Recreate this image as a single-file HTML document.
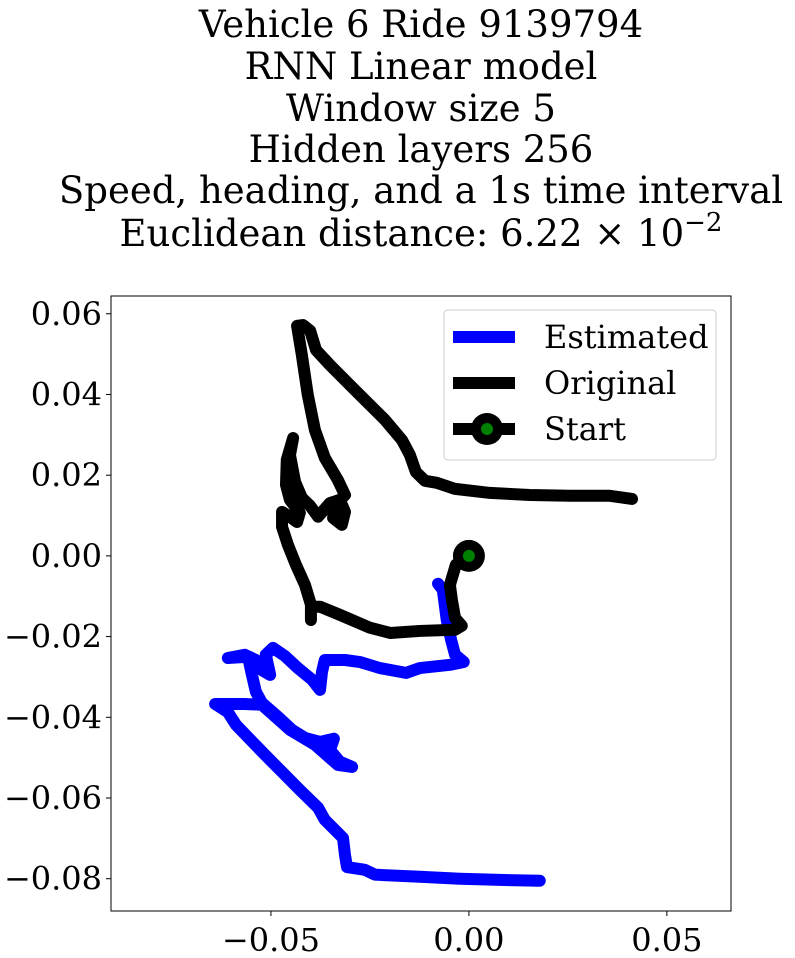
<!DOCTYPE html>
<html><head><meta charset="utf-8"><style>
body{margin:0;background:#fff;}
svg{display:block;font-family:"DejaVu Serif","Liberation Serif",serif;}
</style></head><body>
<svg id="chart" width="795" height="958">
<g font-size="37" text-anchor="middle" fill="#000">
<text x="421" y="37">Vehicle 6 Ride 9139794</text>
<text x="421" y="79">RNN Linear model</text>
<text x="421" y="121">Window size 5</text>
<text x="421" y="162">Hidden layers 256</text>
<text x="421" y="203">Speed, heading, and a 1s time interval</text>
<text x="421" y="246">Euclidean distance: 6.22 × 10<tspan font-size="26" dy="-15">−2</tspan></text>
</g>
<rect x="111" y="296" width="620" height="615" fill="#fff" stroke="#000" stroke-width="1"/>
<g id="ticks"></g>
<g id="series"></g>
<g>
<rect x="444" y="310" width="272" height="150" rx="4" fill="#fff" fill-opacity="0.8" stroke="#ccc"/>
<line x1="453" y1="337" x2="515" y2="337" stroke="#0000ff" stroke-width="12"/>
<text x="544" y="348" font-size="32">Estimated</text>
<line x1="453" y1="383" x2="515" y2="383" stroke="#000" stroke-width="12"/>
<text x="544" y="394" font-size="32">Original</text>
<line x1="453" y1="429" x2="515" y2="429" stroke="#000" stroke-width="12"/>
<circle cx="487" cy="429" r="16" fill="#000"/><circle cx="487" cy="429" r="6" fill="#008000"/>
<text x="544" y="440" font-size="32">Start</text>
</g>
</svg>
<script>
const xTicks=[-0.05,0.00,0.05];
const xTickLabels=["−0.05","0.00","0.05"];
const yTicks=[0.06,0.04,0.02,0.00,-0.02,-0.04,-0.06,-0.08];
const yTickLabels=["0.06","0.04","0.02","0.00","−0.02","−0.04","−0.06","−0.08"];
const origX=[0,-0.0033,-0.0048,-0.0043,-0.0035,-0.0018,-0.0035,-0.0124,-0.0199,-0.0250,-0.0326,-0.0376,-0.0399,-0.0399,-0.0399,-0.0414,-0.0437,-0.0457,-0.0472,-0.0472,-0.0452,-0.0434,-0.0427,-0.0452,-0.0462,-0.0460,-0.0444,-0.0452,-0.0439,-0.0422,-0.0401,-0.0381,-0.0351,-0.0326,-0.0313,-0.0321,-0.0343,-0.0338,-0.0313,-0.0331,-0.0364,-0.0389,-0.0407,-0.0422,-0.0434,-0.0419,-0.0401,-0.0386,-0.0351,-0.0288,-0.0212,-0.0169,-0.0149,-0.0134,-0.0111,-0.0081,-0.0035,0.0053,0.0154,0.0255,0.0356,0.0412];
const origY=[0,-0.0022,-0.0072,-0.0109,-0.0154,-0.0173,-0.0183,-0.0186,-0.0191,-0.0178,-0.0146,-0.0126,-0.0126,-0.0159,-0.0121,-0.0072,-0.0022,0.0027,0.0072,0.0109,0.0097,0.0084,0.0107,0.0139,0.0176,0.0238,0.0292,0.0250,0.0183,0.0144,0.0124,0.0097,0.0131,0.0139,0.0109,0.0077,0.0094,0.0126,0.0151,0.0188,0.0243,0.0312,0.0399,0.0498,0.0570,0.0572,0.0558,0.0510,0.0473,0.0411,0.0337,0.0287,0.0250,0.0208,0.0186,0.0181,0.0166,0.0156,0.0151,0.0149,0.0149,0.0141];
const estX=[-0.0078,-0.0066,-0.0056,-0.0045,-0.0035,-0.0013,-0.0048,-0.0124,-0.0159,-0.0225,-0.0275,-0.0313,-0.0364,-0.0371,-0.0376,-0.0396,-0.0432,-0.0465,-0.0495,-0.0513,-0.0502,-0.0523,-0.0538,-0.0566,-0.0609,-0.0558,-0.0548,-0.0538,-0.0523,-0.0482,-0.0447,-0.0414,-0.0376,-0.0341,-0.0351,-0.0326,-0.0295,-0.0331,-0.0389,-0.0452,-0.0523,-0.0566,-0.0641,-0.0609,-0.0588,-0.0515,-0.0427,-0.0381,-0.0364,-0.0318,-0.0313,-0.0308,-0.0263,-0.0237,-0.0124,-0.0023,0.0078,0.0179];
const estY=[-0.0069,-0.0084,-0.0159,-0.0208,-0.0245,-0.0263,-0.0270,-0.0278,-0.0290,-0.0278,-0.0263,-0.0258,-0.0258,-0.0287,-0.0332,-0.0307,-0.0278,-0.0248,-0.0228,-0.0245,-0.0295,-0.0283,-0.0258,-0.0245,-0.0253,-0.0250,-0.0295,-0.0337,-0.0364,-0.0399,-0.0431,-0.0451,-0.0461,-0.0453,-0.0481,-0.0510,-0.0523,-0.0518,-0.0468,-0.0431,-0.0369,-0.0367,-0.0367,-0.0387,-0.0419,-0.0493,-0.0580,-0.0624,-0.0654,-0.0699,-0.0741,-0.0771,-0.0778,-0.0790,-0.0795,-0.0800,-0.0803,-0.0805];
const startX=0, startY=0;

const L=111,R=731,T=296,B=911;
const xMin=-0.0904,xMax=0.0662,yMin=-0.0880,yMax=0.0644;
const sx=v=>L+(v-xMin)/(xMax-xMin)*(R-L);
const sy=v=>B-(v-yMin)/(yMax-yMin)*(B-T);
const NS="http://www.w3.org/2000/svg";
const ticks=document.getElementById('ticks');
xTicks.forEach((v,i)=>{
  const l=document.createElementNS(NS,'line');
  l.setAttribute('x1',sx(v));l.setAttribute('x2',sx(v));l.setAttribute('y1',B);l.setAttribute('y2',B+5);l.setAttribute('stroke','#000');
  
  
  ticks.appendChild(l);
  const t=document.createElementNS(NS,'text');
  t.setAttribute('x',sx(v));t.setAttribute('y',B+40);t.setAttribute('font-size','32');t.setAttribute('text-anchor','middle');
  t.textContent=xTickLabels[i];
  
  
  ticks.appendChild(t);
});
yTicks.forEach((v,i)=>{
  const l=document.createElementNS(NS,'line');
  l.setAttribute('x1',L-5);l.setAttribute('x2',L);l.setAttribute('y1',sy(v));l.setAttribute('y2',sy(v));l.setAttribute('stroke','#000');
  
  
  ticks.appendChild(l);
  const t=document.createElementNS(NS,'text');
  t.setAttribute('x',L-9);t.setAttribute('y',sy(v)+11);t.setAttribute('font-size','32');t.setAttribute('text-anchor','end');
  t.textContent=yTickLabels[i];
  
  
  ticks.appendChild(t);
});
const series=document.getElementById('series');
function poly(xs,ys,color,name){
  const p=document.createElementNS(NS,'polyline');
  p.setAttribute('points',xs.map((x,i)=>sx(x)+','+sy(ys[i])).join(' '));
  p.setAttribute('fill','none');p.setAttribute('stroke',color);p.setAttribute('stroke-width','12');
  p.setAttribute('stroke-linejoin','round');p.setAttribute('stroke-linecap','round');
  
  
  series.appendChild(p);
}
poly(estX,estY,'#0000ff','estimated-line');
poly(origX,origY,'#000','original-line');
const c1=document.createElementNS(NS,'circle');
c1.setAttribute('cx',sx(startX));c1.setAttribute('cy',sy(startY));c1.setAttribute('r','16');c1.setAttribute('fill','#000');


series.appendChild(c1);
const c2=document.createElementNS(NS,'circle');
c2.setAttribute('cx',sx(startX));c2.setAttribute('cy',sy(startY));c2.setAttribute('r','6');c2.setAttribute('fill','#008000');


series.appendChild(c2);
</script>
</body></html>
